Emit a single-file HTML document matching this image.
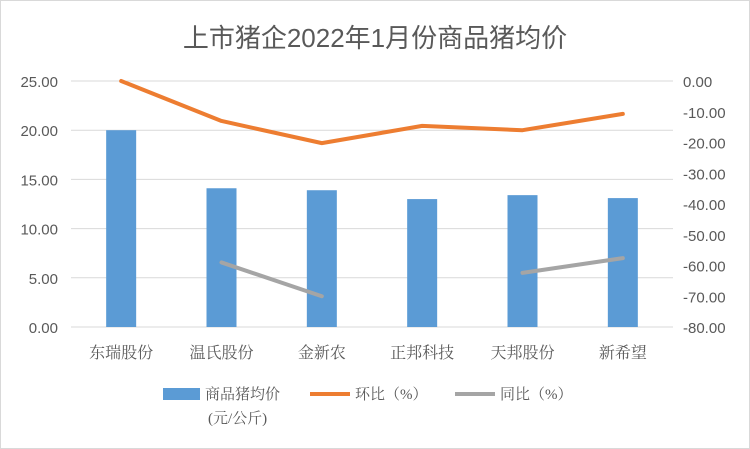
<!DOCTYPE html>
<html><head><meta charset="utf-8"><style>
body{margin:0;background:#fff;}
svg{display:block;font-family:"Liberation Sans","Noto Sans CJK SC",sans-serif;}
.serif{font-family:"Liberation Serif","Noto Serif CJK SC",serif;}
</style></head><body>
<svg id="c" width="750" height="449">
<rect x="0.5" y="0.5" width="749" height="448" fill="#fff" stroke="#d9d9d9"/>
<text x="375" y="47" text-anchor="middle" font-size="26" fill="#595959">上市猪企2022年1月份商品猪均价</text>
<g id="grid"></g><g id="bars"></g><g id="lines"></g><g id="axes"></g>
<g class="serif" font-size="15" fill="#595959">
<rect x="163" y="388" width="37" height="12" fill="#5b9bd5"/>
<text x="205" y="399">商品猪均价</text>
<text x="208" y="423">(元/公斤)</text>
<line x1="310" y1="394" x2="350" y2="394" stroke="#ed7d31" stroke-width="4"/>
<text x="355" y="399">环比（%）</text>
<line x1="455" y1="394" x2="495" y2="394" stroke="#a5a5a5" stroke-width="4"/>
<text x="500" y="399">同比（%）</text>
</g>
</svg>
<script>
const categories=["东瑞股份","温氏股份","金新农","正邦科技","天邦股份","新希望"];
const prices=[20.0,14.1,13.9,13.0,13.4,13.1];
const mom=[0,-13,-20.2,-14.6,-16,-10.7];
const yoy=[null,-59,-70,null,-62.4,-57.6];
const leftTicks=["0.00","5.00","10.00","15.00","20.00","25.00"];
const rightTicks=["-80.00","-70.00","-60.00","-50.00","-40.00","-30.00","-20.00","-10.00","0.00"];
const NS="http://www.w3.org/2000/svg";
const X0=71,X1=673,Y0=327,Y1=81;
const yL=v=>Y0-(v/25)*(Y0-Y1);
const yR=v=>Y0-((v+80)/80)*(Y0-Y1);
const step=(X1-X0)/categories.length;
const xC=i=>X0+step*(i+0.5);
function mk(tag,attrs,parent){const e=document.createElementNS(NS,tag);for(const k in attrs)e.setAttribute(k,attrs[k]);document.getElementById(parent).appendChild(e);return e;}
leftTicks.forEach(t=>{const v=parseFloat(t),y=yL(v);
const g=mk('line',{x1:X0,x2:X1,y1:y,y2:y,stroke:'#d9d9d9'},'grid');


const l=mk('text',{x:58,y:y+6,'text-anchor':'end','font-size':15,fill:'#595959'},'axes');l.textContent=t;

});
rightTicks.forEach(t=>{const y=yR(parseFloat(t));
const l=mk('text',{x:683,y:y+6,'font-size':15,fill:'#595959'},'axes');l.textContent=t;

});
categories.forEach((c,i)=>{
const l=mk('text',{x:xC(i),y:358,'text-anchor':'middle','font-size':16,fill:'#595959',class:'serif'},'axes');l.textContent=c;


const b=mk('rect',{x:xC(i)-15,y:yL(prices[i]),width:30,height:Y0-yL(prices[i]),fill:'#5b9bd5'},'bars');

});
const momPts=mom.map((v,i)=>xC(i)+','+yR(v)).join(' ');
const ml=mk('polyline',{points:momPts,fill:'none',stroke:'#ed7d31','stroke-width':4,'stroke-linejoin':'round','stroke-linecap':'round'},'lines');


for(let i=0;i<yoy.length-1;i++){if(yoy[i]!=null&&yoy[i+1]!=null){
const s=mk('line',{x1:xC(i),y1:yR(yoy[i]),x2:xC(i+1),y2:yR(yoy[i+1]),stroke:'#a5a5a5','stroke-width':4,'stroke-linecap':'round'},'lines');

}}
</script>
</body></html>
